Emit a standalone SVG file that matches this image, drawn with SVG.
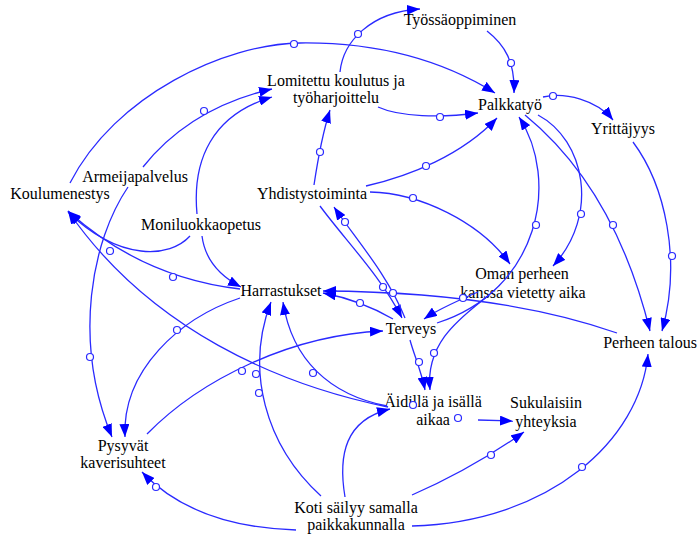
<svg xmlns="http://www.w3.org/2000/svg" width="697" height="536" viewBox="0 0 697 536">
<style>
text{font-family:"Liberation Serif","Times New Roman",serif;font-size:16px;fill:#000;text-anchor:middle}
.c{fill:none;stroke:#2a2aff;stroke-width:1.3;marker-end:url(#ah)}
.h{fill:#fff;stroke:#2a2aff;stroke-width:1.2}
</style>
<defs>
<marker id="ah" markerUnits="userSpaceOnUse" markerWidth="14" markerHeight="10" refX="13" refY="5" orient="auto"><path d="M0,0 L13,5 L0,10 Z" fill="#0000ff"/></marker>
</defs>
<rect width="697" height="536" fill="#fff"/>
<g id="nodes">
<g id="n-tyossaoppiminen"><text x="460" y="25">Työssäoppiminen</text></g>
<g id="n-lomitettu"><text x="336" y="86">Lomitettu koulutus ja</text><text x="336" y="103">työharjoittelu</text></g>
<g id="n-palkkatyo"><text x="510" y="110">Palkkatyö</text></g>
<g id="n-yrittajyys"><text x="623" y="134">Yrittäjyys</text></g>
<g id="n-armeijapalvelus"><text x="135" y="182">Armeijapalvelus</text></g>
<g id="n-koulumenestys"><text x="60" y="199">Koulumenestys</text></g>
<g id="n-yhdistystoiminta"><text x="312" y="199">Yhdistystoiminta</text></g>
<g id="n-moniluokkaopetus"><text x="201" y="230">Moniluokkaopetus</text></g>
<g id="n-harrastukset"><text x="281" y="296">Harrastukset</text></g>
<g id="n-oman-perheen"><text x="522" y="279">Oman perheen</text><text x="523" y="298">kanssa vietetty aika</text></g>
<g id="n-terveys"><text x="411" y="334">Terveys</text></g>
<g id="n-perheen-talous"><text x="650" y="348">Perheen talous</text></g>
<g id="n-aidilla"><text x="433" y="407">Äidillä ja isällä</text><text x="433" y="425">aikaa</text></g>
<g id="n-sukulaisiin"><text x="546" y="408">Sukulaisiin</text><text x="546" y="427">yhteyksia</text></g>
<g id="n-pysyvat"><text x="123" y="451">Pysyvät</text><text x="123" y="468">kaverisuhteet</text></g>
<g id="n-koti"><text x="356" y="513">Koti säilyy samalla</text><text x="356" y="530">paikkakunnalla</text></g>
</g>
<g id="connectors">
<path class="c" d="M70,183 C115,95 225,44 300,43 C380,42 445,62 495,93"/>
<path class="c" d="M340,72 C343,42 370,12 420,9"/>
<path class="c" d="M487,31 C505,45 515,62 514,93"/>
<path class="c" d="M378,107 C400,117 440,118 478,113"/>
<path class="c" d="M366,186 C410,176 462,155 497,118"/>
<path class="c" d="M314,185 C317,165 322,135 330,110"/>
<path class="c" d="M143,167 Q190,108 272,89"/>
<path class="c" d="M197,214 C192,160 212,115 272,97"/>
<path class="c" d="M202,236 C205,260 220,276 241,287"/>
<path class="c" d="M388,407 C280,385 150,330 68,211"/>
<path class="c" d="M240,289 C180,282 120,258 68,211"/>
<path class="c" d="M190,236 C170,258 120,262 68,212"/>
<path class="c" d="M128,187 C92,240 72,340 112,437"/>
<path class="c" d="M240,298 C180,318 122,370 125,437"/>
<path class="c" d="M147,434 C200,380 290,335 383,331"/>
<path class="c" d="M321,496 C265,445 245,370 271,302"/>
<path class="c" d="M387,406 C330,395 292,360 283,302"/>
<path class="c" d="M345,497 C338,455 345,420 390,409"/>
<path class="c" d="M412,495 Q470,470 524,432"/>
<path class="c" d="M412,526 C550,522 640,440 648,354"/>
<path class="c" d="M296,530 C230,528 178,510 142,472"/>
<path class="c" d="M478,420 L513,421"/>
<path class="c" d="M410,340 C414,355 421,370 425,390"/>
<path class="c" d="M489,295 C465,315 425,340 430,390"/>
<path class="c" d="M437,323 C540,290 560,180 519,117"/>
<path class="c" d="M478,292 C462,299 440,308 424,319"/>
<path class="c" d="M370,192 C420,193 480,222 510,264"/>
<path class="c" d="M538,115 C585,140 600,215 553,266"/>
<path class="c" d="M525,115 C580,160 625,230 650,331"/>
<path class="c" d="M633,142 C665,185 682,260 662,331"/>
<path class="c" d="M543,97 C565,92 597,100 613,120"/>
<path class="c" d="M617,333 Q500,292 323,291"/>
<path class="c" d="M393,319 Q360,300 323,293"/>
<path class="c" d="M320,206 C345,240 380,275 402,318"/>
<path class="c" d="M405,318 C388,275 355,238 334,207"/>
<g id="handles">
<circle class="h" cx="294" cy="44" r="3.5"/>
<circle class="h" cx="358" cy="34" r="3.5"/>
<circle class="h" cx="511" cy="63" r="3.5"/>
<circle class="h" cx="440" cy="117" r="3.5"/>
<circle class="h" cx="426" cy="166" r="3.5"/>
<circle class="h" cx="320" cy="152" r="3.5"/>
<circle class="h" cx="204" cy="111" r="3.5"/>
<circle class="h" cx="553" cy="96" r="3.5"/>
<circle class="h" cx="672" cy="256" r="3.5"/>
<circle class="h" cx="613" cy="225" r="3.5"/>
<circle class="h" cx="581" cy="214" r="3.5"/>
<circle class="h" cx="536" cy="225" r="3.5"/>
<circle class="h" cx="413" cy="198" r="3.5"/>
<circle class="h" cx="345" cy="222" r="3.5"/>
<circle class="h" cx="383" cy="287" r="3.5"/>
<circle class="h" cx="393" cy="293" r="3.5"/>
<circle class="h" cx="360" cy="303" r="3.5"/>
<circle class="h" cx="463" cy="298" r="3.5"/>
<circle class="h" cx="434" cy="353" r="3.5"/>
<circle class="h" cx="419" cy="362" r="3.5"/>
<circle class="h" cx="413" cy="405" r="3.5"/>
<circle class="h" cx="458" cy="418" r="3.5"/>
<circle class="h" cx="313" cy="373" r="3.5"/>
<circle class="h" cx="259" cy="393" r="3.5"/>
<circle class="h" cx="256" cy="374" r="3.5"/>
<circle class="h" cx="242" cy="371" r="3.5"/>
<circle class="h" cx="177" cy="330" r="3.5"/>
<circle class="h" cx="90" cy="357" r="3.5"/>
<circle class="h" cx="173" cy="277" r="3.5"/>
<circle class="h" cx="110" cy="251" r="3.5"/>
<circle class="h" cx="491" cy="455" r="3.5"/>
<circle class="h" cx="582" cy="467" r="3.5"/>
<circle class="h" cx="156" cy="487" r="3.5"/>
</g>
</g>
</svg>
